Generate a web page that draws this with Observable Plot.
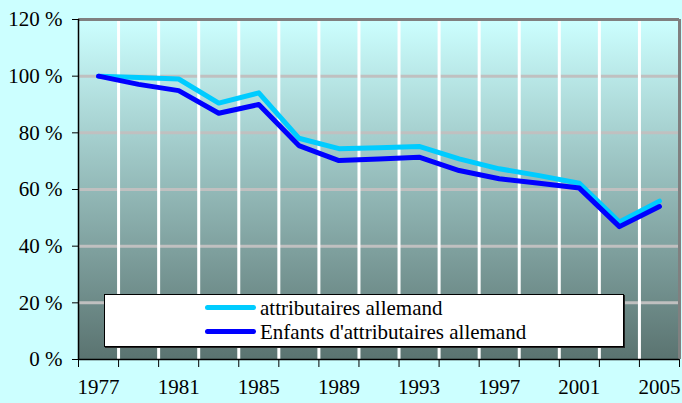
<!DOCTYPE html>
<html>
<head>
<meta charset="utf-8">
<script src="https://cdn.jsdelivr.net/npm/d3@7"></script>
<script src="https://cdn.jsdelivr.net/npm/@observablehq/plot@0.6"></script>
<style>
  html, body { margin: 0; padding: 0; background: #CCFFFF; }
  #wrap { position: relative; width: 682px; height: 403px; overflow: hidden; }
  #legend {
    position: absolute; left: 104px; top: 294px; width: 520px; height: 53px;
    box-sizing: border-box; border: 1px solid #000; background: #fff;
    box-shadow: 1px 1px 0 #222;
    font-family: "Liberation Serif", "DejaVu Serif", "Noto Serif", Tinos, "Times New Roman", Times, "Nimbus Roman", "Nimbus Roman No9 L", FreeSerif, serif;
    font-size: 21px; color: #000;
  }
  #legend .sw { position: absolute; left: 100px; width: 51px; height: 5px; border-radius: 3px; }
  #legend .tx { position: absolute; left: 155px; line-height: 1; white-space: nowrap; }
</style>
</head>
<body>
<div id="wrap"></div>
<script>
// ---- data ----
const years = [1977, 1979, 1981, 1983, 1985, 1987, 1989, 1991, 1993, 1995, 1997, 1999, 2001, 2003, 2005];
const attributaires = [100, 99.5, 99, 90.5, 94.1, 78.1, 74.4, 74.7, 75.2, 70.8, 67.3, 64.9, 62.2, 48.5, 55.9];
const enfants = [100, 97.1, 94.9, 86.9, 90, 75.5, 70.2, 70.8, 71.4, 66.7, 63.8, 62.2, 60.5, 46.9, 54.0];
const seriesNames = ["attributaires allemand", "Enfants d'attributaires allemand"];
const seriesColors = ["#00CCFF", "#0000FF"];
const yTicks = [0, 20, 40, 60, 80, 100, 120];
const xLabels = [1977, 1981, 1985, 1989, 1993, 1997, 2001, 2005];
const xBoundaries = [1976, 1978, 1980, 1982, 1984, 1986, 1988, 1990, 1992, 1994, 1996, 1998, 2000, 2002, 2004, 2006];

const dataA = years.map((year, i) => ({year, value: attributaires[i]}));
const dataB = years.map((year, i) => ({year, value: enfants[i]}));
const xMin = xBoundaries[0], xMax = xBoundaries[xBoundaries.length - 1];
const innerBoundaries = xBoundaries.slice(1, -1);
const yMin = yTicks[0], yMax = yTicks[yTicks.length - 1];
const innerY = yTicks.slice(1, -1);
const FONT = "'Liberation Serif', 'DejaVu Serif', 'Noto Serif', Tinos, 'Times New Roman', Times, 'Nimbus Roman', 'Nimbus Roman No9 L', FreeSerif, serif";

const chart = Plot.plot({
  width: 682,
  height: 403,
  marginLeft: 78,
  marginRight: 3,
  marginTop: 19,
  marginBottom: 44,
  style: {
    background: "transparent",
    fontFamily: FONT,
    fontSize: "21px",
    color: "#000",
    overflow: "visible"
  },
  x: {domain: [xMin, xMax], ticks: xBoundaries, tickFormat: () => "", tickSize: 8, label: null},
  y: {domain: [yMin, yMax], ticks: yTicks, tickFormat: d => d + " %", tickSize: 6, tickPadding: 10, label: null},
  marks: [
    Plot.frame({fill: "url(#plotbg)", stroke: "none"}),
    Plot.ruleY(innerY, {stroke: "#C0C0C0", strokeWidth: 3}),
    Plot.ruleX(innerBoundaries, {stroke: "#FFFFFF", strokeWidth: 3}),
    Plot.ruleY([yMax], {stroke: "#808080", strokeWidth: 3}),
    Plot.ruleX([xMax], {stroke: "#808080", strokeWidth: 3}),
    Plot.ruleX([xMin], {stroke: "#000", strokeWidth: 1.5}),
    Plot.ruleY([yMin], {stroke: "#000", strokeWidth: 1.5}),
    Plot.line(dataA, {x: "year", y: "value", stroke: seriesColors[0], strokeWidth: 5}),
    Plot.line(dataB, {x: "year", y: "value", stroke: seriesColors[1], strokeWidth: 5}),
    Plot.text(xLabels, {x: d => d, text: d => String(d), frameAnchor: "bottom", dy: 34, fontSize: 21, fill: "#000", fontFamily: FONT})
  ]
});

d3.select(chart).insert("defs", ":first-child").html(
  '<linearGradient id="plotbg" x1="0" y1="0" x2="0" y2="1">' +
  '<stop offset="0" stop-color="#CCFFFF"/>' +
  '<stop offset="1" stop-color="#5A7370"/>' +
  '</linearGradient>'
);
d3.select(chart).selectAll("text").style("font-family", FONT);

const wrap = document.getElementById("wrap");
wrap.appendChild(chart);

const legend = document.createElement("div");
legend.id = "legend";
const swTops = [10, 34], txTops = [3, 27];
seriesNames.forEach((name, i) => {
  const sw = document.createElement("span");
  sw.className = "sw";
  sw.style.top = swTops[i] + "px";
  sw.style.background = seriesColors[i];
  const tx = document.createElement("span");
  tx.className = "tx";
  tx.style.top = txTops[i] + "px";
  tx.textContent = name;
  legend.appendChild(sw);
  legend.appendChild(tx);
});
wrap.appendChild(legend);
</script>
</body>
</html>
